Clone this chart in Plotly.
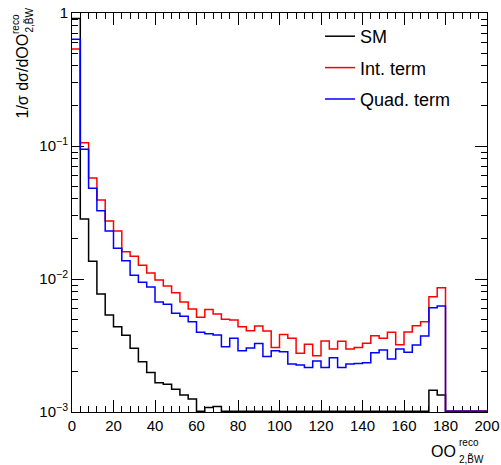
import numpy as np
import plotly.graph_objects as go

# 50 bins of width 4 between 0 and 200, values are fraction per bin
bin_edges = list(range(0, 204, 4))

sm = [0.91, 0.0283, 0.0136, 0.00771, 0.00536, 0.00438, 0.00377, 0.00301, 0.00239, 0.00198,
      0.00166, 0.00162, 0.00148, 0.00134, 0.00125, 0.0, 0.00108, 0.00110, 0.0, 0.0,
      0.0, 0.0, 0.0, 0.0, 0.0, 0.0, 0.0, 0.0, 0.0, 0.0,
      0.0, 0.0, 0.0, 0.0, 0.0, 0.0, 0.0, 0.0, 0.0, 0.0,
      0.0, 0.0, 0.0, 0.00146, 0.00134, 0.0, 0.0, 0.0, 0.0, 0.0]

int_term = [0.536, 0.106, 0.0574, 0.0393, 0.0273, 0.0230, 0.0160, 0.0148, 0.0127, 0.0111,
            0.00983, 0.00886, 0.00789, 0.00671, 0.00595, 0.00515, 0.00591, 0.00546, 0.00498, 0.00492,
            0.00438, 0.00409, 0.00443, 0.00406, 0.00305, 0.00383, 0.00358, 0.00276, 0.00323, 0.00265,
            0.00342, 0.00298, 0.00340, 0.00298, 0.00306, 0.00329, 0.00375, 0.00358, 0.00397, 0.00321,
            0.00400, 0.00446, 0.00477, 0.00736, 0.00861, 0.0, 0.0, 0.0, 0.0, 0.0]

quad_term = [0.634, 0.0945, 0.0481, 0.0326, 0.0230, 0.0170, 0.01374, 0.01066, 0.00945, 0.00871,
             0.00671, 0.00645, 0.00552, 0.00525, 0.00477, 0.00397, 0.00388, 0.00379, 0.00310, 0.00358,
             0.00289, 0.00303, 0.00327, 0.00261, 0.00289, 0.00284, 0.00230, 0.00226, 0.00216, 0.00242,
             0.00216, 0.00256, 0.00216, 0.00230, 0.00232, 0.00235, 0.00279, 0.00292, 0.00250, 0.00298,
             0.00281, 0.00319, 0.00373, 0.00608, 0.00627, 0.0, 0.0, 0.0, 0.0, 0.0]

# empty bins are drawn just on the lower frame edge, as ROOT does
y_floor = 1.012e-3
font = "Liberation Sans, Arial, sans-serif"


def step(vals):
    v = list(np.maximum(np.array(vals), y_floor))
    return bin_edges, v + [v[-1]]


fig = go.Figure()
for name, vals, col in [("SM", sm, "black"),
                        ("Int. term", int_term, "#ff0000"),
                        ("Quad. term", quad_term, "#0000ff")]:
    xs, ys = step(vals)
    fig.add_trace(go.Scatter(x=xs, y=ys, mode="lines", name=name, legendgroup=name,
                             line=dict(color=col, width=1.5, shape="hv")))

W, H = 501, 465
L, R, T, B = 72, 14, 13, 53

axis_common = dict(showline=True, linecolor="black", linewidth=1, mirror="ticks",
                   ticks="inside", tickcolor="black", showgrid=False, zeroline=False,
                   automargin=False, layer="below traces",
                   tickfont=dict(family=font, size=15, color="black"))

fig.update_xaxes(range=[0, 200], tickvals=list(range(0, 201, 20)), ticklen=12,
                 minor=dict(dtick=4, tick0=0, ticks="inside", ticklen=6, tickcolor="black"),
                 **axis_common)

minor_y = [m * 10.0 ** e for e in (-3, -2, -1) for m in range(2, 10)]
fig.update_yaxes(type="log", range=[-3, 0], tickvals=[1e-3, 1e-2, 1e-1, 1],
                 ticktext=["10<sup>\u22123</sup>", "10<sup>\u22122</sup>", "10<sup>\u22121</sup>", "1"],
                 ticklen=12,
                 minor=dict(tickmode="array", tickvals=minor_y, ticks="inside", ticklen=6,
                            tickcolor="black"),
                 **axis_common)


def px_x(p):
    return (p - L) / (W - L - R)


def px_y(p):
    return (H - B - p) / (H - T - B)


annots = [
    dict(text="OO", x=px_x(458), y=px_y(451), xanchor="right", yanchor="middle", size=16, angle=0),
    dict(text="reco", x=px_x(457), y=px_y(442), xanchor="left", yanchor="middle", size=10, angle=0),
    dict(text="2,B\u0303W", x=px_x(457), y=px_y(459), xanchor="left", yanchor="middle", size=10, angle=0),
    dict(text="1/\u03c3 d\u03c3/dOO", x=px_x(22), y=px_y(32), xanchor="center", yanchor="top", size=16, angle=-90),
    dict(text="reco", x=px_x(15), y=px_y(12), xanchor="center", yanchor="top", size=10, angle=-90),
    dict(text="2,B\u0303W", x=px_x(30), y=px_y(6), xanchor="center", yanchor="top", size=10, angle=-90),
]
for a in annots:
    fig.add_annotation(text=a["text"], x=a["x"], y=a["y"], xref="paper", yref="paper",
                       xanchor=a["xanchor"], yanchor=a["yanchor"], textangle=a["angle"],
                       showarrow=False, font=dict(family=font, size=a["size"], color="black"))

fig.update_layout(
    width=W, height=H,
    margin=dict(l=L, r=R, t=T, b=B),
    paper_bgcolor="white", plot_bgcolor="white",
    font=dict(family=font, color="black"),
    legend=dict(x=px_x(320), y=px_y(18), xanchor="left", yanchor="top",
                bgcolor="rgba(0,0,0,0)", font=dict(family=font, size=18, color="black"),
                tracegroupgap=5, itemwidth=30),
)

fig.write_html("out.html", config={"displayModeBar": False},
               post_script="document.body.style.margin='0';")
